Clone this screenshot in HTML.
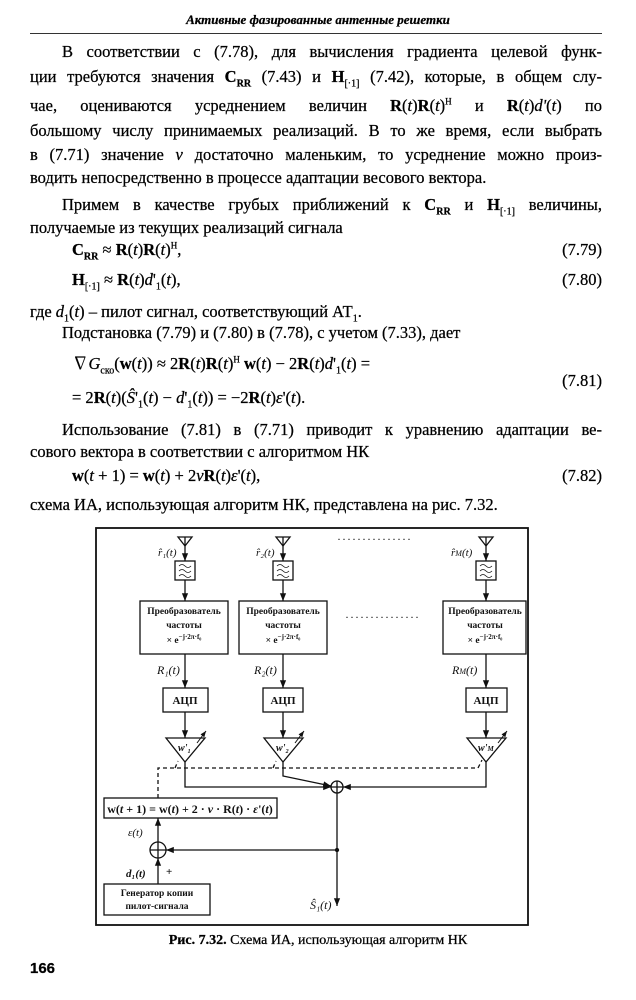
<!DOCTYPE html>
<html><head><meta charset="utf-8">
<style>
body{margin:0;background:#fff;}
#p{position:relative;width:636px;height:1000px;overflow:hidden;background:#fff;color:#000;font-family:"Liberation Serif","Noto Serif CJK SC",serif;font-size:16.5px;-webkit-text-stroke:0.25px #000;}
.l{position:absolute;left:30px;width:572px;text-align:justify;text-align-last:justify;line-height:20px;white-space:nowrap;}
.i{left:62px;width:540px;}
.n{text-align:left;text-align-last:left;}
.eq{position:absolute;left:72px;line-height:20px;white-space:nowrap;}
.num{position:absolute;right:34px;line-height:20px;}
b{font-weight:bold;}
sub{font-size:10px;line-height:0;}
sup{line-height:0;}
</style></head><body><div id="p">
<div style="position:absolute;left:0;width:636px;top:12px;text-align:center;font-style:italic;font-weight:bold;font-size:13px;">Активные фазированные антенные решетки</div>
<div style="position:absolute;left:30px;width:572px;top:33px;border-top:1.5px solid #333;"></div>

<div class="l i" style="top:42px">В соответствии с (7.78), для вычисления градиента целевой функ-</div>
<div class="l" style="top:67px">ции требуются значения <b>C<sub>RR</sub></b> (7.43) и <b>H</b><sub>[·1]</sub> (7.42), которые, в общем слу-</div>
<div class="l" style="top:96px">чае, оцениваются усреднением величин <b>R</b>(<i>t</i>)<b>R</b>(<i>t</i>)<sup style="font-size:9px">H</sup> и <b>R</b>(<i>t</i>)<i>d'</i>(<i>t</i>) по</div>
<div class="l" style="top:121px">большому числу принимаемых реализаций. В то же время, если выбрать</div>
<div class="l" style="top:145px">в (7.71) значение <i>ν</i> достаточно маленьким, то усреднение можно произ-</div>
<div class="l n" style="top:168px">водить непосредственно в процессе адаптации весового вектора.</div>
<div class="l i" style="top:195px">Примем в качестве грубых приближений к <b>C<sub>RR</sub></b> и <b>H</b><sub>[·1]</sub> величины,</div>
<div class="l n" style="top:218px">получаемые из текущих реализаций сигнала</div>

<div class="eq" style="top:240px"><b>C<sub>RR</sub></b> ≈ <b>R</b>(<i>t</i>)<b>R</b>(<i>t</i>)<sup style="font-size:9px">H</sup>,</div>
<div class="num" style="top:240px">(7.79)</div>
<div class="eq" style="top:270px"><b>H</b><sub>[·1]</sub> ≈ <b>R</b>(<i>t</i>)<i>d</i>'<sub>1</sub>(<i>t</i>),</div>
<div class="num" style="top:270px">(7.80)</div>
<div class="l n" style="top:302px">где <i>d</i><sub>1</sub>(<i>t</i>) – пилот сигнал, соответствующий АТ<sub>1</sub>.</div>
<div class="l n i" style="top:323px">Подстановка (7.79) и (7.80) в (7.78), с учетом (7.33), дает</div>
<div class="eq" style="top:354px">∇<i>G</i><sub>cко</sub>(<b>w</b>(<i>t</i>)) ≈ 2<b>R</b>(<i>t</i>)<b>R</b>(<i>t</i>)<sup style="font-size:9px">H</sup> <b>w</b>(<i>t</i>) − 2<b>R</b>(<i>t</i>)<i>d</i>'<sub>1</sub>(<i>t</i>) =</div>
<div class="eq" style="top:388px">= 2<b>R</b>(<i>t</i>)(<i>Ŝ</i>'<sub>1</sub>(<i>t</i>) − <i>d</i>'<sub>1</sub>(<i>t</i>)) = −2<b>R</b>(<i>t</i>)<i>ε</i>'(<i>t</i>).</div>
<div class="num" style="top:371px">(7.81)</div>
<div class="l i" style="top:420px">Использование (7.81) в (7.71) приводит к уравнению адаптации ве-</div>
<div class="l n" style="top:442px">сового вектора в соответствии с алгоритмом НК</div>
<div class="eq" style="top:466px"><b>w</b>(<i>t</i> + 1) = <b>w</b>(<i>t</i>) + 2<i>ν</i><b>R</b>(<i>t</i>)<i>ε</i>'(<i>t</i>),</div>
<div class="num" style="top:466px">(7.82)</div>
<div class="l n" style="top:495px">схема ИА, использующая алгоритм НК, представлена на рис. 7.32.</div>

<svg width="636" height="1000" style="position:absolute;left:0;top:0" font-family="Liberation Serif, serif">
<defs><marker id="a" viewBox="0 0 10 10" refX="10" refY="5" markerWidth="6" markerHeight="6" orient="auto"><path d="M0,1 L10,5 L0,9z" fill="#111"/></marker></defs>
<g stroke="#111" fill="none" stroke-width="1.3">
<rect x="96" y="528" width="432" height="397" stroke-width="1.8"/>
<g id="c1">
<path d="M178,537 L192,537 L185,546z"/>
<line x1="185" y1="537" x2="185" y2="561" marker-end="url(#a)"/>
<rect x="175" y="561" width="20" height="19"/>
<path d="M179,566 q3,-3 6,0 t6,0 M179,571 q3,-3 6,0 t6,0 M179,576 q3,-3 6,0 t6,0" stroke-width="0.8"/>
<line x1="185" y1="580" x2="185" y2="601" marker-end="url(#a)"/>
<rect x="140" y="601" width="88" height="53"/>
<line x1="185" y1="654" x2="185" y2="688" marker-end="url(#a)"/>
<rect x="163" y="688" width="45" height="24"/>
<line x1="185" y1="712" x2="185" y2="738" marker-end="url(#a)"/>
<path d="M166,738 L205,738 L185,762z"/>
<line x1="197" y1="743" x2="206" y2="731" stroke-width="1" marker-end="url(#a)"/>
</g>
<g transform="translate(98,0)">
<path d="M178,537 L192,537 L185,546z"/>
<line x1="185" y1="537" x2="185" y2="561" marker-end="url(#a)"/>
<rect x="175" y="561" width="20" height="19"/>
<path d="M179,566 q3,-3 6,0 t6,0 M179,571 q3,-3 6,0 t6,0 M179,576 q3,-3 6,0 t6,0" stroke-width="0.8"/>
<line x1="185" y1="580" x2="185" y2="601" marker-end="url(#a)"/>
<rect x="141" y="601" width="88" height="53"/>
<line x1="185" y1="654" x2="185" y2="688" marker-end="url(#a)"/>
<rect x="165" y="688" width="40" height="24"/>
<line x1="185" y1="712" x2="185" y2="738" marker-end="url(#a)"/>
<path d="M166,738 L205,738 L185,762z"/>
<line x1="197" y1="743" x2="206" y2="731" stroke-width="1" marker-end="url(#a)"/>
</g>
<g transform="translate(301,0)">
<path d="M178,537 L192,537 L185,546z"/>
<line x1="185" y1="537" x2="185" y2="561" marker-end="url(#a)"/>
<rect x="175" y="561" width="20" height="19"/>
<path d="M179,566 q3,-3 6,0 t6,0 M179,571 q3,-3 6,0 t6,0 M179,576 q3,-3 6,0 t6,0" stroke-width="0.8"/>
<line x1="185" y1="580" x2="185" y2="601" marker-end="url(#a)"/>
<rect x="142" y="601" width="83" height="53"/>
<line x1="185" y1="654" x2="185" y2="688" marker-end="url(#a)"/>
<rect x="165" y="688" width="41" height="24"/>
<line x1="185" y1="712" x2="185" y2="738" marker-end="url(#a)"/>
<path d="M166,738 L205,738 L185,762z"/>
<line x1="197" y1="743" x2="206" y2="731" stroke-width="1" marker-end="url(#a)"/>
</g>
<circle cx="337" cy="787" r="6"/>
<path d="M331,787 h12 M337,781 v12"/>
<polyline points="185,762 185,787 331,787" marker-end="url(#a)"/>
<polyline points="283,762 283,776 331,786" marker-end="url(#a)"/>
<polyline points="486,762 486,787 343,787" marker-end="url(#a)"/>
<path d="M158,798 V768 H478 L482,760 M175,768 L178,761 M273,768 L276,761" stroke-dasharray="4,3"/>
<rect x="104" y="798" width="173" height="20"/>
<line x1="337" y1="793" x2="337" y2="906" marker-end="url(#a)"/>
<line x1="337" y1="850" x2="166" y2="850" marker-end="url(#a)"/>
<circle cx="337" cy="850" r="1.5" fill="#111"/>
<circle cx="158" cy="850" r="8"/>
<path d="M150,850 h16 M158,842 v16"/>
<line x1="158" y1="842" x2="158" y2="818" marker-end="url(#a)"/>
<rect x="104" y="884" width="106" height="31"/>
<line x1="158" y1="884" x2="158" y2="858" marker-end="url(#a)"/>
</g>
<g fill="#111" font-size="11">
<text x="337" y="543" font-size="12" letter-spacing="1">···············</text>
<text x="345" y="621" font-size="12" letter-spacing="1">···············</text>
<g font-style="italic" font-size="11">
<text x="158" y="556">r̂₁(t)</text><text x="256" y="556">r̂₂(t)</text><text x="451" y="556">r̂<tspan font-size="8">M</tspan>(t)</text>
<text x="157" y="674" font-size="12">R₁(t)</text><text x="254" y="674" font-size="12">R₂(t)</text><text x="452" y="674" font-size="12">R<tspan font-size="8">M</tspan>(t)</text>
<text x="178" y="751" font-size="10" font-weight="bold">w'₁</text><text x="276" y="751" font-size="10" font-weight="bold">w'₂</text><text x="478" y="751" font-size="10" font-weight="bold">w'<tspan font-size="7">M</tspan></text>
<text x="128" y="836">ε(t)</text><text x="126" y="877" font-weight="bold">d₁(t)</text>
<text x="310" y="909" font-size="12">Ŝ₁(t)</text>
</g>
<text x="166" y="875" font-weight="bold">+</text>
<g font-size="9.5" font-weight="bold" text-anchor="middle">
<text x="184" y="614">Преобразователь</text><text x="184" y="628">частоты</text><text x="184" y="643">× e<tspan font-size="7" dy="-4">−j·2π·f₀</tspan></text>
<text x="283" y="614">Преобразователь</text><text x="283" y="628">частоты</text><text x="283" y="643">× e<tspan font-size="7" dy="-4">−j·2π·f₀</tspan></text>
<text x="485" y="614">Преобразователь</text><text x="485" y="628">частоты</text><text x="485" y="643">× e<tspan font-size="7" dy="-4">−j·2π·f₀</tspan></text>
<text x="185" y="704" font-size="11">АЦП</text><text x="283" y="704" font-size="11">АЦП</text><text x="486" y="704" font-size="11">АЦП</text>
<text x="157" y="896">Генератор копии</text><text x="157" y="909">пилот-сигнала</text>
</g>
<text x="190" y="813" text-anchor="middle" font-size="12" font-weight="bold">w(<tspan font-style="italic">t</tspan> + 1) = w(<tspan font-style="italic">t</tspan>) + 2 · <tspan font-style="italic">ν</tspan> · R(<tspan font-style="italic">t</tspan>) · <tspan font-style="italic">ε</tspan>'(<tspan font-style="italic">t</tspan>)</text>
</g>
</svg>

<div style="position:absolute;left:0;width:636px;top:933px;text-align:center;font-size:14px;"><b>Рис. 7.32.</b> Схема ИА, использующая алгоритм НК</div>
<div style="position:absolute;left:30px;top:960px;font-family:'Liberation Sans',sans-serif;font-weight:bold;font-size:15px;">166</div>
</div></body></html>
